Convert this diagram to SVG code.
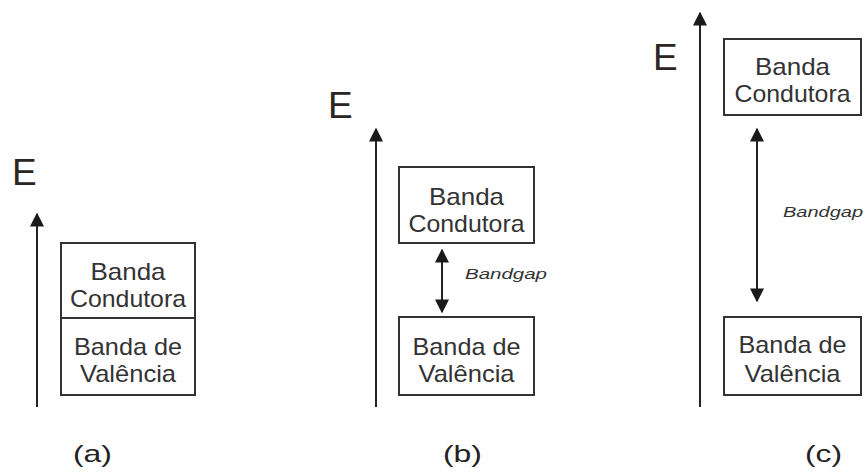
<svg xmlns="http://www.w3.org/2000/svg" width="868" height="476" viewBox="0 0 868 476">
<defs>
<marker id="ah" viewBox="0 0 10 10" refX="9" refY="5" markerWidth="7" markerHeight="7" orient="auto-start-reverse" markerUnits="strokeWidth">
<path d="M0,0 L10,5 L0,10 z" fill="#1a1a1a"/>
</marker>
</defs>
<style>
.box{fill:#fff;stroke:#333;stroke-width:2}
.t{font-family:"Liberation Sans",Arial,sans-serif;font-size:24px;fill:#333;text-anchor:middle}
.e{font-family:"Liberation Sans",Arial,sans-serif;font-size:37px;fill:#2a2624}
.lab{font-family:"Liberation Sans",Arial,sans-serif;font-size:24px;fill:#222}
.bg{font-family:"Liberation Sans",Arial,sans-serif;font-size:15px;font-style:italic;fill:#333}
.ax{stroke:#222;stroke-width:2;fill:none}
</style>
<g id="panel-a">
<g id="a-conducao"><rect class="box" x="61" y="243" width="134" height="75"/>
<text class="t" x="128" y="280" textLength="75" lengthAdjust="spacingAndGlyphs">Banda</text><text class="t" x="128" y="307" textLength="116" lengthAdjust="spacingAndGlyphs">Condutora</text></g>
<g id="a-valencia"><rect class="box" x="61" y="318" width="134" height="77"/>
<text class="t" x="128" y="355" textLength="108" lengthAdjust="spacingAndGlyphs">Banda de</text><text class="t" x="128" y="382" textLength="96" lengthAdjust="spacingAndGlyphs">Valência</text></g>
<text class="e" x="12" y="185">E</text>
<text class="lab" x="73" y="462" textLength="39" lengthAdjust="spacingAndGlyphs">(a)</text>
</g>
<g id="panel-b">
<g id="b-conducao"><rect class="box" x="399" y="167" width="135" height="76"/>
<text class="t" x="466.5" y="205" textLength="75" lengthAdjust="spacingAndGlyphs">Banda</text><text class="t" x="466.5" y="232" textLength="116" lengthAdjust="spacingAndGlyphs">Condutora</text></g>
<g id="b-valencia"><rect class="box" x="399" y="317" width="135" height="78"/>
<text class="t" x="466.5" y="355" textLength="108" lengthAdjust="spacingAndGlyphs">Banda de</text><text class="t" x="466.5" y="382" textLength="96" lengthAdjust="spacingAndGlyphs">Valência</text></g>
<text class="e" x="328" y="118">E</text>
<text class="bg" x="465" y="279" textLength="82" lengthAdjust="spacingAndGlyphs">Bandgap</text>
<text class="lab" x="443" y="462" textLength="39" lengthAdjust="spacingAndGlyphs">(b)</text>
</g>
<g id="panel-c">
<g id="c-conducao"><rect class="box" x="724" y="39" width="137" height="76"/>
<text class="t" x="792.5" y="75" textLength="75" lengthAdjust="spacingAndGlyphs">Banda</text><text class="t" x="792.5" y="102" textLength="116" lengthAdjust="spacingAndGlyphs">Condutora</text></g>
<g id="c-valencia"><rect class="box" x="724" y="317" width="137" height="78"/>
<text class="t" x="792.5" y="353" textLength="108" lengthAdjust="spacingAndGlyphs">Banda de</text><text class="t" x="792.5" y="382" textLength="96" lengthAdjust="spacingAndGlyphs">Valência</text></g>
<text class="e" x="653" y="70">E</text>
<text class="bg" x="783" y="217" textLength="80" lengthAdjust="spacingAndGlyphs">Bandgap</text>
<text class="lab" x="805" y="462" textLength="37" lengthAdjust="spacingAndGlyphs">(c)</text>
</g>
<g id="connectors">
<line class="ax" x1="37" y1="407" x2="37" y2="214" marker-end="url(#ah)"/>
<line class="ax" x1="376" y1="407" x2="376" y2="129" marker-end="url(#ah)"/>
<line class="ax" x1="700" y1="407" x2="700" y2="13" marker-end="url(#ah)"/>
<line class="ax" x1="442" y1="250" x2="442" y2="312" marker-start="url(#ah)" marker-end="url(#ah)"/>
<line class="ax" x1="757" y1="129" x2="757" y2="301" marker-start="url(#ah)" marker-end="url(#ah)"/>
</g>
</svg>
